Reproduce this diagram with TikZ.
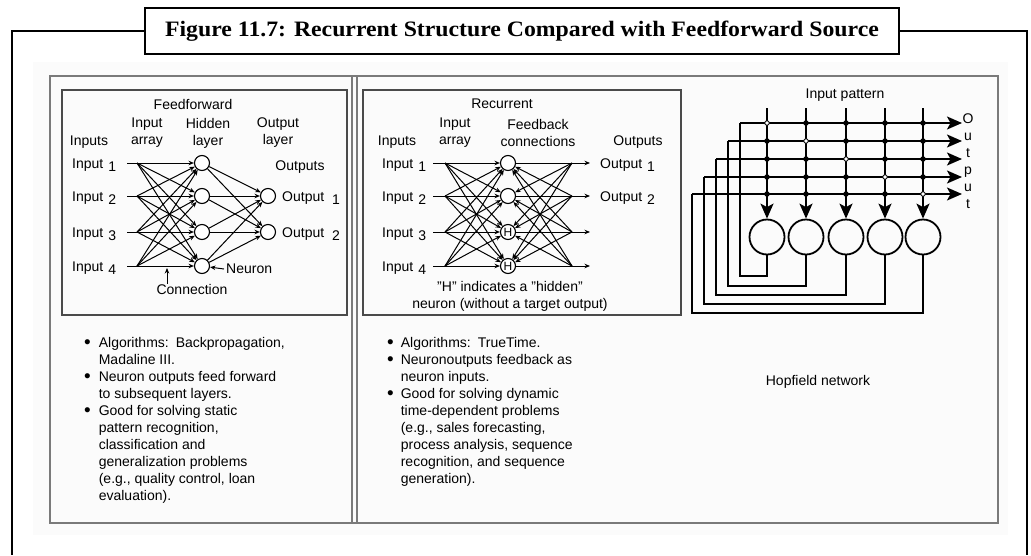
\documentclass[tikz,border=0pt]{standalone}
\usepackage{fontspec}
\setmainfont{Liberation Sans}
\newfontfamily\titlefont{Liberation Serif}
\usetikzlibrary{arrows.meta,positioning,calc}
\definecolor{panelbg}{HTML}{FBFBFB}
\definecolor{panelline}{HTML}{7A7A7A}
\definecolor{boxline}{HTML}{4A4A4A}
\newcommand{\ix}[1]{\hspace{5pt}\raisebox{-3pt}{#1}}
\newcommand{\bigdot}{\raisebox{-0.5pt}{\scalebox{1.35}{\textbullet}}}

\begin{document}
\begin{tikzpicture}[x=1pt,y=-1pt,
  frame/.style={line width=2.4pt},
  lbl/.style={font=\fontsize{14}{17}\selectfont,inner sep=0pt,align=center},
  neuron/.style={draw,line width=1.1pt,circle,minimum size=15pt,inner sep=0pt,fill=white,font=\fontsize{12}{12}\selectfont},
  hopneuron/.style={draw,line width=1.8pt,circle,minimum size=35pt,inner sep=0pt},
  arr/.style={-{Stealth[length=5.5pt,width=4.5pt]},line width=1pt},
  bigarr/.style={-{Stealth[length=15pt,width=13pt,inset=3.5pt]},line width=1.8pt},
  wire/.style={line width=1.8pt},
  fulldot/.style={circle,fill,inner sep=0pt,minimum size=5.5pt},
  opendot/.style={circle,draw,fill=white,line width=0.8pt,inner sep=0pt,minimum size=4.5pt},
  notes/.style={font=\fontsize{14}{17}\selectfont,inner sep=0pt,anchor=north west}]
  \useasboundingbox (0,0) rectangle (1031,555);

  % frame and title
  \draw[frame] (145,31) -| (12,555);
  \draw[frame] (899,31) -| (1027,555);
  \node[draw,frame,fill=white,minimum width=754pt,minimum height=46pt,inner sep=0pt] (title) at (522,31)
    {\scalebox{1.08}[1]{\titlefont\bfseries\fontsize{22}{26}\selectfont Figure 11.7: Recurrent Structure Compared with Feedforward Source}};

  % panel
  \fill[panelbg] (33,62) rectangle (1008,535);
  \draw[panelline,line width=1.4pt] (50,76) rectangle (998,523);
  \draw[panelline,line width=1.2pt] (352,76) -- (352,523) (357,76) -- (357,523);
  \draw[boxline,line width=1.5pt] (62,90) rectangle (347,315);
  \draw[boxline,line width=1.5pt] (363,90) rectangle (681,315);

  % feedforward
  \node[lbl] (fftitle) at (193,104) {Feedforward};
  \node[lbl] (ffarray) at (147,133) {Input\\array};
  \node[lbl] (ffhidden) at (208,133) {Hidden\\layer};
  \node[lbl] (ffoutlayer) at (278,133) {Output\\layer};
  \node[lbl] (ffinputs) at (89,142) {Inputs};
  \node[lbl] (ffoutputs) at (300,167) {Outputs};
  \foreach \y [count=\i] in {163,196,232,266} {
    \node[lbl,anchor=base west] (fin\i) at (72,\y+5) {Input\ix{\i}};
    \coordinate (fs\i) at (127,\y);
    \coordinate (fa\i) at (137,\y);
    \node[neuron] (fh\i) at (202,\y) {};
  }
  \foreach \y [count=\i] in {196,232} {
    \node[neuron] (fo\i) at (268,\y) {};
    \node[lbl,anchor=base west] (fout\i) at (282,\y+5) {Output\hspace{3pt}\ix{\i}};
  }
  \foreach \i in {1,...,4} {
    \draw[line width=1pt] (fs\i) -- (fa\i);
    \foreach \j in {1,...,4} \draw[arr] (fa\i) -- (fh\j);
    \foreach \j in {1,2} \draw[arr] (fh\i) -- (fo\j);
  }
  \node[lbl,anchor=west] (neulbl) at (226,269) {Neuron};
  \draw[arr] ([xshift=-2pt]neulbl.west) -- (fh4);
  \node[lbl] (conlbl) at (192,289) {Connection};
  \coordinate (contip) at (167,268);
  \draw[arr] (contip |- conlbl.north) -- (contip);

  % recurrent
  \node[lbl] (rctitle) at (502,104) {Recurrent};
  \node[lbl] (rcarray) at (455,133) {Input\\array};
  \node[lbl] (rcfeed) at (538,133) {Feedback\\connections};
  \node[lbl] (rcinputs) at (397,142) {Inputs};
  \node[lbl] (rcoutputs) at (638,142) {Outputs};
  \foreach \y/\t [count=\i] in {163/,196/,232/H,266/H} {
    \node[lbl,anchor=base west] (rin\i) at (382,\y+5) {Input\ix{\i}};
    \coordinate (rs\i) at (433,\y);
    \coordinate (ra\i) at (445,\y);
    \node[neuron] (rh\i) at (508,\y) {\t};
    \coordinate (rb\i) at (572,\y);
    \coordinate (re\i) at (590,\y);
  }
  \foreach \i in {1,...,4} {
    \draw[line width=1pt] (rs\i) -- (ra\i);
    \draw[line width=1pt] (rh\i) -- (rb\i);
    \draw[arr] (rb\i) -- (re\i);
    \foreach \j in {1,...,4} {
      \draw[arr] (ra\i) -- (rh\j);
      \ifnum\i=\j\else \draw[arr] (rb\i) -- (rh\j); \fi
    }
  }
  \foreach \y [count=\i] in {163,196} \node[lbl,anchor=base west] (rout\i) at (600,\y+5) {Output\ix{\i}};
  \node[lbl] (rcnote) at (510,296.5) {"H" indicates a "hidden"\\neuron (without a target output)};

  % hopfield
  \node[lbl] (hptitle) at (845,95) {Input pattern};
  \foreach \x [count=\k] in {767,806,846,885,923} {
    \coordinate (ht\k) at (\x,108);
    \node[hopneuron] (hn\k) at (\x,237) {};
  }
  \foreach \y/\fx/\yb [count=\k] in {123/740/276,141/728/286,159/716/295,177/704/304,194/692/313} {
    \coordinate (hr\k) at (\fx,\y);
    \coordinate (ho\k) at (962,\y);
    \coordinate (hb\k) at (\fx,\yb);
  }
  \foreach \k in {1,...,5} {
    \draw[bigarr] (ht\k) -- (hn\k);
    \draw[bigarr] (hr\k) -- (ho\k);
    \draw[wire] (hn\k.south) |- (hb\k) -- (hr\k);
  }
  \foreach \k in {1,...,5} \foreach \j in {1,...,5} {
    \ifnum\k=\j \node[opendot] (hd\k\j) at (ht\k |- hr\j) {};
    \else \node[fulldot] (hd\k\j) at (ht\k |- hr\j) {}; \fi
  }
  \node[lbl,anchor=north] (hpout) at (968,114) {O\\u\\t\\p\\u\\t};
  \node[lbl] (hpname) at (818,382) {Hopfield network};

  % notes
  \node[notes] (ffnotes) at (84,335.7) {\begin{tabular}{@{}l@{\hspace{8pt}}l@{}}
    \bigdot & Algorithms:\enspace Backpropagation,\\
    & Madaline III.\\
    \bigdot & Neuron outputs feed forward\\
    & to subsequent layers.\\
    \bigdot & Good for solving static\\
    & pattern recognition,\\
    & classification and\\
    & generalization problems\\
    & (e.g., quality control, loan\\
    & evaluation).
  \end{tabular}};
  \node[notes] (rcnotes) at (387,335.7) {\begin{tabular}{@{}l@{\hspace{7pt}}l@{}}
    \bigdot & Algorithms:\enspace TrueTime.\\
    \bigdot & Neuronoutputs feedback as\\
    & neuron inputs.\\
    \bigdot & Good for solving dynamic\\
    & time-dependent problems\\
    & (e.g., sales forecasting,\\
    & process analysis, sequence\\
    & recognition, and sequence\\
    & generation).
  \end{tabular}};
\end{tikzpicture}
\end{document}
